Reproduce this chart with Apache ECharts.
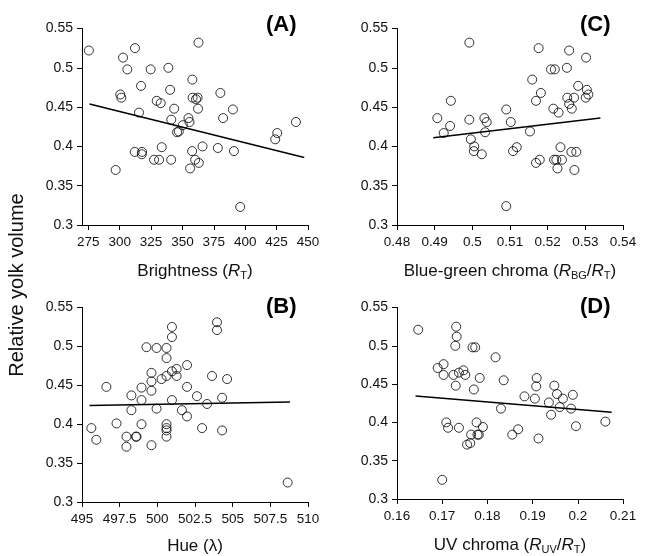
<!DOCTYPE html>
<html>
<head>
<meta charset="utf-8">
<script src="https://cdn.jsdelivr.net/npm/echarts@6/dist/echarts.min.js"></script>
<style>html,body{margin:0;padding:0;background:#fff}#c{width:648px;height:556px}</style>
</head>
<body>
<div id="c"></div>
<script>
// Panel A: Brightness (R_T) vs relative yolk volume
const brightness = [275.5,302.7,306.1,312.2,324.7,338.8,362.8,357.9,317.0,340.2,300.5,301.3,329.5,332.7,358.1,360.8,362.1,380.2,343.4,362.4,315.4,390.2,354.8,355.6,341.1,382.4,440.4,350.3,347.1,345.7,425.5,423.9,333.5,366.0,378.2,312.0,317.8,317.6,357.7,391.0,327.4,331.4,341.0,360.1,363.0,356.1,296.8,396.0];
const yolkA = [0.522,0.513,0.498,0.525,0.498,0.500,0.532,0.485,0.477,0.472,0.466,0.462,0.458,0.455,0.462,0.460,0.462,0.468,0.448,0.448,0.443,0.447,0.436,0.431,0.434,0.436,0.431,0.427,0.419,0.418,0.417,0.409,0.399,0.400,0.398,0.393,0.393,0.390,0.394,0.394,0.383,0.383,0.383,0.383,0.379,0.372,0.370,0.323];
const fitA = [[276,0.454],[447,0.386]];

// Panel C: Blue-green chroma (R_BG/R_T)
const bgChroma = [0.4907,0.4924,0.4941,0.4943,0.4992,0.4992,0.4996,0.5005,0.5004,0.5025,0.5032,0.5038,0.5034,0.5090,0.5102,0.5090,0.5108,0.5118,0.5153,0.5159,0.5169,0.5176,0.5182,0.5169,0.5179,0.5209,0.5219,0.5215,0.5229,0.5217,0.5223,0.5226,0.5238,0.5234,0.5251,0.5257,0.5252,0.5257,0.5264,0.5270,0.5281,0.5263,0.5276,0.5271,0.5302,0.5304,0.5301,0.5308];
const yolkC = [0.436,0.417,0.426,0.458,0.532,0.434,0.409,0.400,0.394,0.390,0.436,0.431,0.418,0.447,0.431,0.324,0.394,0.399,0.419,0.485,0.458,0.525,0.468,0.379,0.383,0.498,0.498,0.448,0.443,0.383,0.383,0.372,0.383,0.399,0.500,0.522,0.462,0.454,0.448,0.462,0.477,0.393,0.393,0.370,0.513,0.472,0.462,0.466];
const fitC = [[0.4896,0.411],[0.534,0.436]];

// Panel B: Hue (lambda)
const hue = [495.62,495.95,496.62,497.29,497.95,497.95,498.28,498.28,498.62,498.58,498.95,498.95,498.95,499.28,499.61,499.61,499.61,499.61,499.95,499.95,500.28,500.61,500.61,500.61,500.61,500.61,500.61,500.61,500.97,500.97,500.97,500.97,501.28,501.28,501.63,501.97,501.97,501.97,502.63,502.97,503.30,503.63,503.96,503.96,504.30,504.30,504.63,508.65];
const yolkB = [0.395,0.380,0.448,0.401,0.371,0.384,0.437,0.418,0.384,0.384,0.447,0.431,0.400,0.499,0.466,0.455,0.443,0.373,0.498,0.420,0.458,0.498,0.485,0.462,0.400,0.395,0.392,0.384,0.525,0.512,0.468,0.431,0.471,0.462,0.418,0.476,0.448,0.410,0.436,0.395,0.426,0.462,0.531,0.521,0.434,0.392,0.458,0.325];
const fitB = [[495.5,0.424],[508.8,0.4286]];

// Panel D: UV chroma (R_UV/R_T)
const uvChroma = [0.1647,0.1690,0.1703,0.1703,0.1709,0.1713,0.1700,0.1725,0.1729,0.1732,0.1731,0.1730,0.1737,0.1737,0.1747,0.1751,0.1755,0.1762,0.1764,0.1767,0.1773,0.1770,0.1776,0.1778,0.1781,0.1783,0.1790,0.1818,0.1830,0.1836,0.1855,0.1868,0.1882,0.1905,0.1908,0.1909,0.1913,0.1936,0.1941,0.1948,0.1954,0.1960,0.1967,0.1985,0.1989,0.1996,0.2061];
const yolkD = [0.521,0.471,0.476,0.462,0.400,0.393,0.325,0.462,0.500,0.512,0.525,0.448,0.393,0.465,0.468,0.462,0.371,0.373,0.384,0.498,0.498,0.443,0.400,0.384,0.384,0.458,0.394,0.485,0.418,0.455,0.384,0.391,0.434,0.431,0.447,0.458,0.379,0.426,0.410,0.448,0.437,0.420,0.431,0.418,0.436,0.395,0.401];
const fitD = [[0.1641,0.4345],[0.2075,0.4134]];

const yTicks = [0.3,0.35,0.4,0.45,0.5,0.55];
const xTicksA = [275,300,325,350,375,400,425,450];

const zip = (xs, ys) => xs.map((x, i) => [x, ys[i]]);
const FONT = 'Liberation Sans, Arial, sans-serif';
const chart = echarts.init(document.getElementById('c'));

const grids = [
  {left: 82, top: 28.5, width: 226, height: 196.5},
  {left: 397, top: 28.5, width: 226, height: 196.5},
  {left: 82, top: 307.5, width: 226, height: 196},
  {left: 397, top: 307.5, width: 226, height: 196}
];
const richName = {
  i: {fontFamily: FONT, fontSize: 17, fontStyle: 'italic', color: '#111'},
  s: {fontFamily: FONT, fontSize: 11, color: '#111', padding: [9, 0, 0, 0]}
};
const common = {
  axisLine: {lineStyle: {color: '#000', width: 1}},
  axisTick: {length: 5, lineStyle: {color: '#000'}},
  splitLine: {show: false},
  axisLabel: {fontFamily: FONT, fontSize: 13.5, color: '#111', margin: 10},
  nameLocation: 'middle',
  nameGap: 36,
  nameTextStyle: {fontFamily: FONT, fontSize: 17, color: '#111', rich: richName}
};
const xAxes = [
  Object.assign({}, common, {gridIndex: 0, type: 'value', min: 270, max: 450,
    axisTick: {length: 5, lineStyle: {color: '#000'}, customValues: xTicksA},
    axisLabel: Object.assign({}, common.axisLabel, {customValues: xTicksA}),
    name: 'Brightness ({i|R}{s|T})'}),
  Object.assign({}, common, {gridIndex: 1, type: 'value', min: 0.48, max: 0.54, interval: 0.01,
    name: 'Blue-green chroma ({i|R}{s|BG}/{i|R}{s|T})'}),
  Object.assign({}, common, {gridIndex: 2, type: 'value', min: 495, max: 510, interval: 2.5,
    name: 'Hue (λ)'}),
  Object.assign({}, common, {gridIndex: 3, type: 'value', min: 0.16, max: 0.21, interval: 0.01,
    name: 'UV chroma ({i|R}{s|UV}/{i|R}{s|T})'})
];
const yAxes = [0,1,2,3].map(g => Object.assign({}, common, {
  gridIndex: g, type: 'value', min: yTicks[0], max: yTicks[yTicks.length-1], interval: 0.05,
  axisLabel: Object.assign({}, common.axisLabel, {fontSize: 14, margin: 9})
}));

const scatterSeries = (i, data) => ({
  type: 'scatter', xAxisIndex: i, yAxisIndex: i, data: data,
  symbol: 'circle', symbolSize: 9,
  itemStyle: {color: 'rgba(0,0,0,0)', borderColor: '#000', borderWidth: 1}
});
const lineSeries = (i, data) => ({
  type: 'line', xAxisIndex: i, yAxisIndex: i, data: data, showSymbol: false,
  lineStyle: {color: '#000', width: 1.5}, z: 3, silent: true
});

const panelLabel = (text, x, y) => ({
  type: 'text', left: x, top: y,
  style: {text: text, font: 'bold 22px ' + FONT, fill: '#000'}
});

chart.setOption({
  animation: false,
  grid: grids,
  xAxis: xAxes,
  yAxis: yAxes,
  series: [
    scatterSeries(0, zip(brightness, yolkA)), lineSeries(0, fitA),
    scatterSeries(1, zip(bgChroma, yolkC)), lineSeries(1, fitC),
    scatterSeries(2, zip(hue, yolkB)), lineSeries(2, fitB),
    scatterSeries(3, zip(uvChroma, yolkD)), lineSeries(3, fitD)
  ],
  graphic: [
    panelLabel('(A)', 266, 14),
    panelLabel('(C)', 580, 14),
    panelLabel('(B)', 266, 296),
    panelLabel('(D)', 580, 296),
    {type: 'text', x: 17, y: 285, rotation: Math.PI / 2,
     style: {text: 'Relative yolk volume', font: '20px ' + FONT, fill: '#111', align: 'center', verticalAlign: 'middle'}}
  ]
});
</script>
</body>
</html>
